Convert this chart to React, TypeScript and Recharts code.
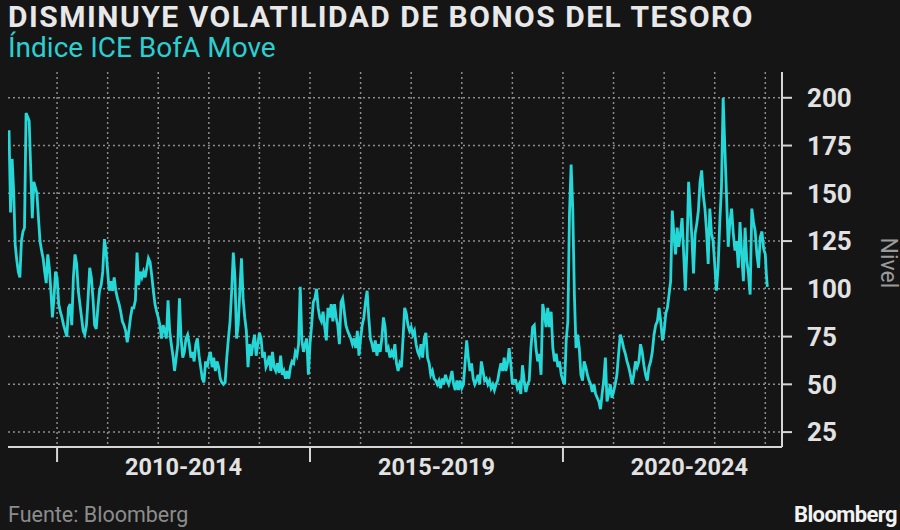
import { CartesianGrid, Line, LineChart, XAxis, YAxis } from "recharts";

// ICE BofA MOVE index (roughly 2-3 readings per month)
const v2009 = [183, 140, 168, 151, 123, 115, 109, 106, 125, 130, 132, 192, 190, 188, 163, 137, 156, 153, 150, 137, 125, 120, 116, 109, 103, 118, 111, 99, 85, 95, 109];
const v2010 = [106, 92, 88, 85, 81, 78, 75, 90, 92, 81, 106, 118, 113, 99, 92, 85, 78, 76, 81, 95, 111, 106, 95, 81, 79, 90, 99, 102, 109, 126, 120];
const v2011 = [109, 99, 104, 99, 106, 99, 95, 92, 88, 83, 81, 78, 72, 78, 85, 90, 90, 94, 119, 102, 109, 106, 109, 106, 111, 116, 114, 107, 99, 92, 88];
const v2012 = [85, 81, 74, 81, 78, 74, 94, 78, 71, 65, 57, 64, 71, 95, 74, 64, 67, 74, 76, 71, 64, 67, 62, 71, 74, 65, 59, 53, 51, 62, 59];
const v2013 = [64, 67, 59, 64, 57, 62, 59, 53, 51, 50, 51, 64, 74, 83, 99, 119, 106, 74, 81, 99, 116, 95, 85, 78, 59, 71, 65, 71, 76, 65, 71];
const v2014 = [77, 74, 64, 67, 59, 61, 65, 57, 67, 59, 57, 61, 56, 65, 55, 57, 53, 57, 53, 59, 62, 61, 67, 65, 71, 101, 73, 67, 71, 74, 55];
const v2015 = [71, 81, 93, 95, 100, 90, 85, 83, 88, 80, 73, 90, 85, 92, 83, 92, 85, 81, 71, 93, 95, 88, 81, 78, 76, 74, 71, 74, 69, 78, 65];
const v2016 = [74, 81, 85, 93, 99, 85, 74, 71, 67, 73, 65, 71, 67, 74, 85, 80, 67, 69, 64, 67, 65, 71, 61, 57, 61, 59, 74, 90, 87, 81, 78];
const v2017 = [80, 76, 78, 71, 67, 65, 71, 64, 74, 77, 64, 61, 55, 57, 53, 52, 50, 52, 48, 53, 50, 55, 52, 50, 53, 57, 50, 47, 52, 47, 52];
const v2018 = [48, 50, 61, 73, 64, 57, 61, 53, 50, 52, 55, 50, 62, 57, 52, 53, 50, 52, 48, 50, 47, 50, 52, 57, 61, 57, 64, 57, 61, 69, 61];
const v2019 = [50, 52, 52, 48, 50, 45, 60, 52, 46, 50, 52, 69, 80, 81, 69, 62, 66, 55, 92, 87, 80, 90, 80, 88, 69, 62, 66, 59, 62, 55];
const v2020 = [52, 50, 73, 83, 139, 165, 142, 97, 69, 76, 69, 55, 52, 62, 59, 55, 52, 50, 46, 50, 45, 43, 41, 37, 45, 52, 64, 41, 45, 50, 43];
const v2021 = [46, 50, 55, 66, 76, 73, 69, 66, 62, 59, 55, 50, 55, 62, 59, 62, 71, 67, 60, 55, 52, 59, 62, 67, 76, 81, 83, 90, 83, 73];
const v2022 = [78, 87, 90, 97, 104, 141, 128, 118, 132, 122, 129, 137, 118, 99, 121, 156, 142, 127, 108, 129, 134, 141, 156, 162, 149, 142, 130, 113, 142, 129, 125];
const v2023 = [113, 99, 111, 135, 153, 200, 174, 149, 122, 135, 142, 129, 120, 125, 111, 135, 118, 104, 132, 115, 108, 97, 142, 135, 130, 118, 111, 127, 130, 121];
const v2024 = [118, 108, 101];

// [from, to, readings] - readings are spread evenly over the span
const spans: [number, number, number[]][] = [
  [2009.05, 2010, v2009],
  [2010, 2011, v2010],
  [2011, 2012, v2011],
  [2012, 2013, v2012],
  [2013, 2014, v2013],
  [2014, 2015, v2014],
  [2015, 2016, v2015],
  [2016, 2017, v2016],
  [2017, 2018, v2017],
  [2018, 2019, v2018],
  [2019, 2020, v2019],
  [2020, 2021, v2020],
  [2021, 2022, v2021],
  [2022, 2023, v2022],
  [2023, 2024, v2023],
  [2024, 2024.06, v2024],
];

const yTicks = [25, 50, 75, 100, 125, 150, 175, 200];
const gridYears = [2010, 2011, 2012, 2013, 2014, 2015, 2016, 2017, 2018, 2019, 2020, 2021, 2022, 2023, 2024];
const groupStarts = [2010, 2015, 2020];
const groupMids = [2012.5, 2017.5, 2022.5];
const groupLabels = ["2010-2014", "2015-2019", "2020-2024"];

const data = spans.flatMap(([from, to, vals]) =>
  vals.map((v, i) => ({ t: from + ((to - from) * i) / vals.length, v })),
);

const BG = "#151515";
const CYAN = "#26d7d7";
const AXIS = "#d6d6d6";
const FONT = "Roboto, 'DejaVu Sans', sans-serif";

function XTick({ x = 0, y = 0, payload }: any) {
  const v = Number(payload?.value);
  const gi = groupMids.indexOf(v);
  if (gi >= 0) {
    return (
      <text x={x} y={y + 28} textAnchor="middle" fill="#e2e2e2" fontSize={23.5} fontWeight={700} fontFamily={FONT}>
        {groupLabels[gi]}
      </text>
    );
  }
  return <line x1={x} x2={x} y1={y} y2={y + 15} stroke={AXIS} strokeWidth={2} />;
}

export default function App() {
  return (
    <div
      style={{
        position: "absolute",
        left: 0,
        top: 0,
        width: 900,
        height: 530,
        background: BG,
        overflow: "hidden",
        fontFamily: FONT,
      }}
    >
      <div style={{ position: "absolute", left: 8, top: 0, fontSize: 30, lineHeight: "34px", fontWeight: 700, color: "#e8e8e8", letterSpacing: 1.5, whiteSpace: "nowrap" }}>
        DISMINUYE VOLATILIDAD DE BONOS DEL TESORO
      </div>
      <div style={{ position: "absolute", left: 8, top: 31, fontSize: 28, color: "#2ccfd0", whiteSpace: "nowrap" }}>
        Índice ICE BofA Move
      </div>

      <div style={{ position: "absolute", left: 0, top: 0 }}>
        <LineChart width={900} height={530} data={data} margin={{ top: 72, right: 0, bottom: 0, left: 8 }}>
          <CartesianGrid
            stroke="#8c8c8c"
            strokeWidth={1.5}
            strokeDasharray="2 3"
            verticalValues={gridYears}
            horizontalValues={yTicks}
          />
          <XAxis
            dataKey="t"
            type="number"
            domain={[2009.03, 2024.33]}
            allowDataOverflow
            ticks={[...groupStarts, ...groupMids].sort((a, b) => a - b)}
            interval={0}
            height={83}
            tickSize={0}
            tickMargin={0}
            tickLine={false}
            axisLine={{ stroke: AXIS, strokeWidth: 2 }}
            tick={<XTick />}
          />
          <YAxis
            orientation="right"
            type="number"
            domain={[17.2, 213.5]}
            allowDataOverflow
            ticks={yTicks}
            interval={0}
            width={118}
            tickSize={10}
            tickMargin={15}
            tickLine={{ stroke: AXIS, strokeWidth: 2 }}
            axisLine={{ stroke: AXIS, strokeWidth: 2 }}
            tick={{ fill: "#e2e2e2", fontSize: 26, fontWeight: 700, fontFamily: FONT }}
          />
          <Line type="linear" dataKey="v" stroke={CYAN} strokeWidth={2.8} dot={false} isAnimationActive={false} />
        </LineChart>
      </div>

      <div
        style={{
          position: "absolute",
          left: 888,
          top: 263,
          transform: "translate(-50%, -50%) rotate(90deg)",
          fontSize: 23,
          color: "#9a9a9a",
          whiteSpace: "nowrap",
        }}
      >
        Nivel
      </div>

      <div style={{ position: "absolute", left: 8, top: 502, fontSize: 21.5, color: "#8c8c8c", whiteSpace: "nowrap" }}>
        Fuente: Bloomberg
      </div>
      <div style={{ position: "absolute", right: 3, top: 502, fontSize: 22, fontWeight: 700, color: "#f2f2f2", letterSpacing: -0.6, whiteSpace: "nowrap" }}>
        Bloomberg
      </div>
    </div>
  );
}
